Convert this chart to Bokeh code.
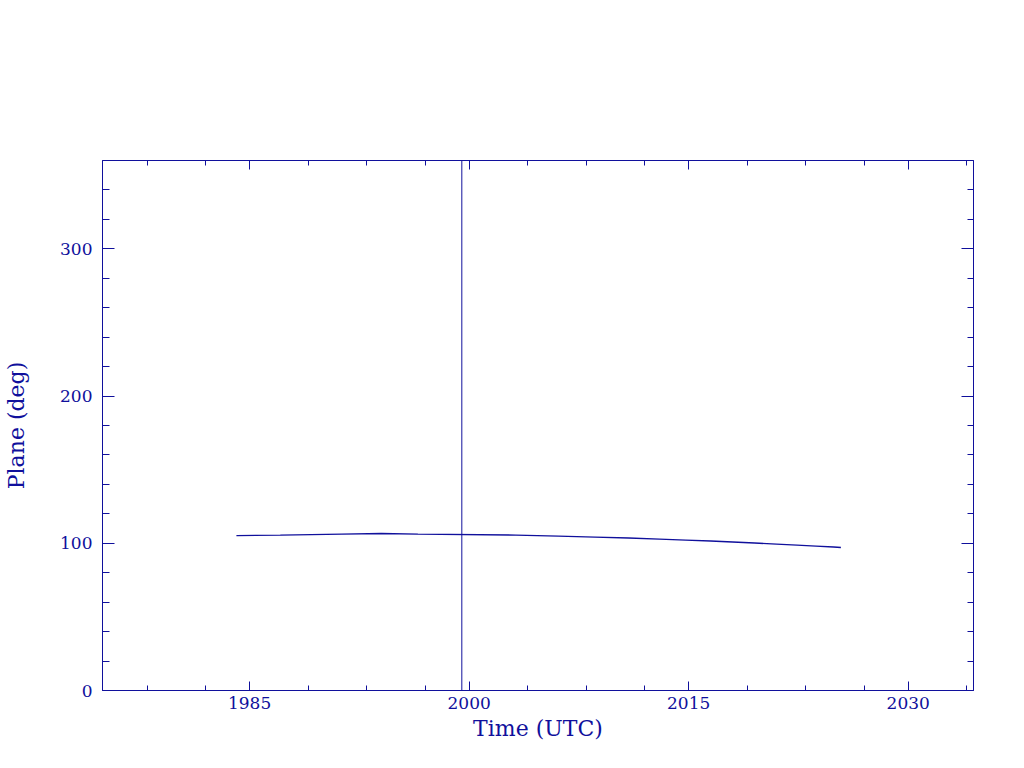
from bokeh.plotting import figure
from bokeh.models import Range1d, FixedTicker, LinearAxis, Span, CustomLabelingPolicy
from bokeh.embed import file_html
from bokeh.resources import INLINE

# ---- data ----
years = [1984.1, 1987.1, 1991.3, 1994.0, 1996.5, 2003.2, 2006.1, 2008.6, 2010.9,
         2013.0, 2014.8, 2016.5, 2018.0, 2019.5, 2021.0, 2022.4, 2023.7, 2024.9, 2025.4]
plane_deg = [105.2, 105.55, 106.25, 106.6, 106.25, 105.55, 104.85, 104.2, 103.55,
             102.85, 102.15, 101.5, 100.85, 100.15, 99.45, 98.75, 98.1, 97.45, 97.1]
event_year = 1999.5

x_major = [1985, 2000, 2015, 2030]
x_minor = [1978, 1982, 1989, 1993, 1997, 2004, 2008, 2012, 2019, 2023, 2027, 2034]
y_major = [0, 100, 200, 300]
y_minor = [20, 40, 60, 80, 120, 140, 160, 180, 220, 240, 260, 280, 320, 340]

C = "#10109c"
FONT = "DejaVu Serif"

p = figure(width=1008, height=752, output_backend="svg", toolbar_location=None,
           x_range=Range1d(1974.95, 2034.46), y_range=Range1d(0, 360),
           min_border_left=102, min_border_right=35, min_border_top=160, min_border_bottom=62,
           x_axis_label="Time (UTC)", y_axis_label="Plane (deg)")
p.background_fill_color = "white"
p.border_fill_color = "white"
p.outline_line_color = C
p.xgrid.grid_line_color = None
p.ygrid.grid_line_color = None

xt = FixedTicker(ticks=x_major, minor_ticks=x_minor)
yt = FixedTicker(ticks=y_major, minor_ticks=y_minor)

no_labels = CustomLabelingPolicy(code="""
    for (const i of indices) { indices.unset(i) }
    return indices
""")

def style(ax, major_in, minor_in, size="17px"):
    ax.axis_line_color = C
    ax.major_tick_line_color = C
    ax.minor_tick_line_color = C
    ax.major_tick_in = major_in
    ax.major_tick_out = 0
    ax.minor_tick_in = minor_in
    ax.minor_tick_out = 0
    ax.major_label_text_color = C
    ax.major_label_text_font = FONT
    ax.major_label_text_font_size = size
    ax.axis_label_text_color = C
    ax.axis_label_text_font = FONT
    ax.axis_label_text_font_size = "22px"
    ax.axis_label_text_font_style = "normal"

p.xaxis.ticker = xt
p.yaxis.ticker = yt
style(p.xaxis[0], 9, 5)
style(p.yaxis[0], 12, 7)
p.xaxis[0].major_label_standoff = 6
p.xaxis[0].axis_label_standoff = 4
p.yaxis[0].major_label_standoff = 10
p.yaxis[0].axis_label_standoff = 28

top = LinearAxis(ticker=xt, major_label_policy=no_labels, major_label_standoff=0)
style(top, 9, 5, size="1px")
p.add_layout(top, "above")
right = LinearAxis(ticker=yt, major_label_policy=no_labels, major_label_standoff=0)
style(right, 12, 6, size="1px")
p.add_layout(right, "right")

p.line(years, plane_deg, line_color=C, line_width=1.4)
p.add_layout(Span(location=event_year, dimension="height", line_color=C, line_width=1))

open("out.html", "w").write(file_html(p, INLINE))
